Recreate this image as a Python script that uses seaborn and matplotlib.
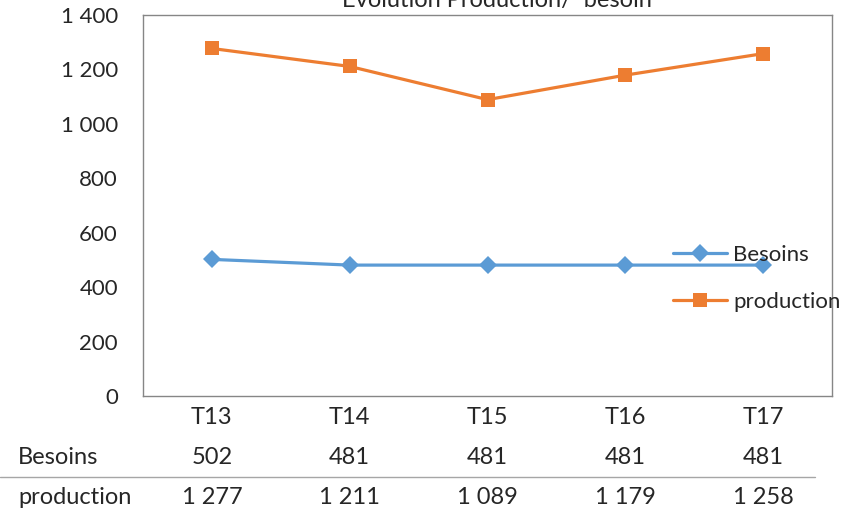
import pandas as pd
import matplotlib.pyplot as plt
import matplotlib.transforms as mtransforms
from matplotlib.ticker import FuncFormatter
import seaborn as sns

# Data
periods = ["T13", "T14", "T15", "T16", "T17"]
besoins = [502, 481, 481, 481, 481]
production = [1277, 1211, 1089, 1179, 1258]
series_names = ["Besoins", "production"]
colors = ["#5B9BD5", "#ED7D31"]
markers = ["D", "s"]


def fmt_fr(v, pos=None):
    return f"{int(v):,}".replace(",", " ")


df = pd.DataFrame({
    "periode": periods * 2,
    "valeur": besoins + production,
    "serie": ["Besoins"] * 5 + ["production"] * 5,
})

sns.set_style("white")
plt.rcParams["font.family"] = ["Lato", "DejaVu Sans"]
FS = 16
FS_TAB = 17

fig = plt.figure(figsize=(8.67, 5.12), dpi=100)
ax = fig.add_axes([143 / 867, 116 / 512, 689 / 867, 381 / 512])

sns.lineplot(data=df, x="periode", y="valeur", hue="serie", style="serie",
             palette=colors, markers=markers, dashes=False, markersize=9.5,
             markeredgewidth=0, linewidth=2.3, sort=False, ax=ax)

ax.set_xlim(-0.5, len(periods) - 0.5)
ax.set_ylim(0, 1400)
ax.set_yticks(range(0, 1401, 200))
ax.yaxis.set_major_formatter(FuncFormatter(fmt_fr))
ax.tick_params(axis="y", labelsize=FS, length=6, color="#868686", pad=12)
ax.set_xticks(range(len(periods)))
ax.set_xticklabels([])
ax.tick_params(axis="x", length=0)
ax.set_xlabel("")
ax.set_ylabel("")
for s in ax.spines.values():
    s.set_color("#868686")
    s.set_linewidth(1)

# legend
leg = ax.legend(loc="upper left", bbox_to_anchor=((673 - 143) / 689, (396 - 245) / 381),
                frameon=False, fontsize=FS, handlelength=2.45, labelspacing=1.2,
                handletextpad=0.27, borderaxespad=0, borderpad=0)

# data table under the plot
trans = mtransforms.blended_transform_factory(ax.transData, fig.transFigure)
y_head, y_b, y_p = 1 - 418 / 512, 1 - 458 / 512, 1 - 497 / 512
for i, p in enumerate(periods):
    ax.text(i, y_head, p, transform=trans, ha="center", va="center", fontsize=FS_TAB, clip_on=False)
    ax.text(i, y_b, fmt_fr(besoins[i]), transform=trans, ha="center", va="center", fontsize=FS_TAB, clip_on=False)
    ax.text(i, y_p, fmt_fr(production[i]), transform=trans, ha="center", va="center", fontsize=FS_TAB, clip_on=False)
fig.text(18 / 867, y_b, series_names[0], ha="left", va="center", fontsize=FS_TAB)
fig.text(18 / 867, y_p, series_names[1], ha="left", va="center", fontsize=FS_TAB)
fig.add_artist(plt.Line2D([0, 815 / 867], [1 - 477 / 512, 1 - 477 / 512],
                          transform=fig.transFigure, color="#A6A6A6", linewidth=1))

# title (cut by the top edge, as in the original)
fig.text(497 / 867, 1 - 7 / 512, "Evolution Production/  besoin", ha="center",
         va="baseline", fontsize=17)

fig.savefig("out.png", dpi=100)
